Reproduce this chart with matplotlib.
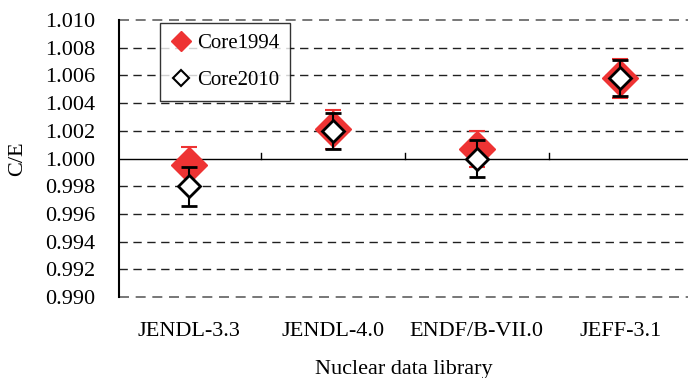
import matplotlib
matplotlib.use("Agg")
import matplotlib.pyplot as plt
import numpy as np
from matplotlib.lines import Line2D

plt.rcParams['font.family'] = ['Liberation Serif', 'DejaVu Serif']

libraries = ["JENDL-3.3", "JENDL-4.0", "ENDF/B-VII.0", "JEFF-3.1"]
core1994 = [0.9995, 1.0021, 1.0007, 1.0058]
core1994_err = [0.0013, 0.0014, 0.0013, 0.0014]
core2010 = [0.9980, 1.0020, 1.0000, 1.0058]
core2010_err = [0.0014, 0.0013, 0.0013, 0.0013]
yticks = [0.990, 0.992, 0.994, 0.996, 0.998, 1.000, 1.002, 1.004, 1.006, 1.008, 1.010]

fig = plt.figure(figsize=(6.88, 3.78), dpi=100)
ax = fig.add_axes([119/688, 1 - 297/378, (688-119)/688, (297-20)/378])

x = np.arange(1, len(libraries) + 1)
ax.set_xlim(0.51, 4.47)
ax.set_ylim(0.990, 1.010)

for yv in yticks:
    if abs(yv - 1.000) < 1e-9:
        continue
    edge = abs(yv - 0.990) < 1e-9 or abs(yv - 1.010) < 1e-9
    ax.axhline(yv, color='#606060' if edge else '#202020',
               lw=1.2 if edge else 1.0, ls=(0, (6, 4)), zorder=1, clip_on=False)
ax.axhline(1.000, color='black', lw=1.0, zorder=2)
for b in x[:-1] + 0.5:
    ax.plot([b, b], [1.000, 1.0004], color='black', lw=1.0, zorder=2)

ax.errorbar(x, core1994, yerr=core1994_err, fmt='D', color='#ee3333',
            ms=18, mec='#ee3333', mfc='#ee3333', ecolor='#ee3333',
            elinewidth=1.5, capsize=5.5, capthick=1.5, zorder=3, label='Core1994')
ax.errorbar(x, core2010, yerr=core2010_err, fmt='D', color='black',
            ms=11, mec='black', mfc='white', mew=2, ecolor='black',
            elinewidth=1.5, capsize=6, capthick=1.5, zorder=4, label='Core2010')

for s in ['top', 'right', 'bottom']:
    ax.spines[s].set_visible(False)
ax.spines['left'].set_linewidth(1.5)

ax.set_yticks(yticks)
ax.set_yticklabels([f"{v:.3f}" for v in yticks], fontsize=16)
ax.tick_params(axis='y', length=0, pad=17)
ax.set_xticks(x)
ax.set_xticklabels(libraries, fontsize=16)
ax.tick_params(axis='x', length=0, pad=18)
ax.set_ylabel("C/E", fontsize=16, labelpad=13)
ax.set_xlabel("Nuclear data library", fontsize=16, labelpad=14)

handles = [Line2D([], [], marker='D', ls='none', color='#ee3333', ms=10),
           Line2D([], [], marker='D', ls='none', mfc='white', mec='black', mew=1.5, ms=8)]
leg = ax.legend(handles, ['Core1994', 'Core2010'], loc='upper left',
                bbox_to_anchor=(41/569, 1 - 3/277), fontsize=15, frameon=True,
                fancybox=False, edgecolor='black', handletextpad=0.3,
                handlelength=1.0, labelspacing=0.85, borderpad=0.5, borderaxespad=0)
leg.get_frame().set_linewidth(1.0)
leg.set_zorder(5)

fig.savefig("out.png", dpi=100)
